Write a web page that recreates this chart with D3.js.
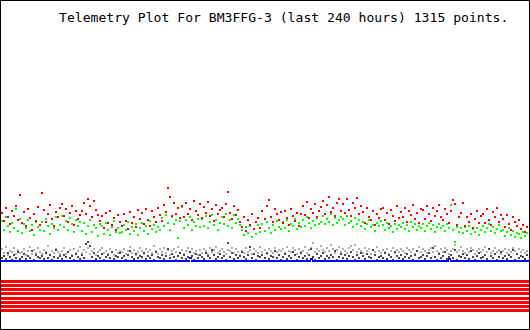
<!DOCTYPE html>
<html>
<head>
<meta charset="utf-8">
<script src="https://cdn.jsdelivr.net/npm/d3@7"></script>
<style>
  body { margin: 0; background: #fff; }
  .wrapper { width: 530px; height: 330px; }
  text { font-family: "DejaVu Sans Mono", "Liberation Mono", monospace; }
</style>
</head>
<body>
<div class="wrapper"></div>
<script>
width = 530;
height = 330;

title = "Telemetry Plot For BM3FFG-3 (last 240 hours) 1315 points.";

/* Analog channels, raw values 0-255, one per packet (263 packets) */
ch1 = [ // red
  48,40,53,44,37,50,45,55,41,66, 38,49,35,52,43,31,47,40,54,36,
  68,51,39,47,56,42,35,49,44,53, 57,45,52,39,48,55,36,50,42,46,
  50,58,47,62,55,44,60,51,46,40, 45,33,48,38,50,36,43,31,46,39,
  35,47,40,32,49,38,44,34,51,42, 48,37,52,41,35,50,44,39,53,46,
  40,56,49,73,64,45,58,47,53,43, 55,44,58,47,52,41,60,50,46,57,
  43,54,48,59,45,52,40,56,47,51, 53,44,57,69,48,42,55,46,51,39,
  34,44,30,41,36,47,32,39,43,33, 50,42,55,61,44,39,52,47,41,49,
  38,50,43,36,52,45,40,48,35,47, 55,46,59,43,52,48,57,44,50,54,
  60,47,56,64,49,53,45,58,62,50, 57,48,62,51,45,58,53,63,47,55,
  49,38,53,44,41,50,36,47,43,52, 53,41,48,37,51,45,40,55,43,49,
  44,53,39,50,46,56,42,48,38,52, 51,42,55,47,40,53,45,50,56,44,
  41,52,47,38,50,61,57,36,44,48, 58,35,44,39,47,33,42,50,38,45,
  47,38,52,41,36,49,44,53,39,46, 42,34,46,37,31,44,39,35,41,32,
  36,29,34
];
ch2 = [ // green
  40,31,44,35,29,38,33,52,30,42, 28,37,33,41,30,36,26,39,34,31,
  39,30,42,35,27,37,33,44,31,36, 45,34,40,31,43,37,29,41,35,39,
  30,38,27,35,41,29,36,33,25,37, 35,27,38,31,26,34,40,29,33,28,
  29,36,31,39,27,34,30,37,26,33, 38,30,35,27,40,32,36,29,34,31,
  43,35,46,38,31,44,37,41,23,40, 54,33,41,36,44,31,39,35,42,34,
  42,35,45,33,39,46,36,41,31,38, 44,37,47,35,41,33,46,38,42,36,
  31,26,34,28,35,24,32,27,36,29, 37,30,39,33,28,36,31,40,34,32,
  39,33,41,30,37,35,42,32,38,34, 41,35,44,38,33,40,36,43,37,39,
  45,37,42,39,47,36,43,38,41,44, 42,36,45,38,40,34,43,37,41,35,
  39,32,37,41,34,36,30,38,35,40, 36,31,38,33,35,29,37,32,36,34,
  38,32,36,30,39,34,37,31,35,33, 37,30,35,38,32,36,29,34,37,33,
  35,30,37,33,56,31,19,34,29,33, 28,34,30,35,27,32,29,33,26,31,
  35,29,33,37,30,34,28,32,36,30, 31,25,29,33,26,30,24,28,27,23,
  29,25,28
];
ch3 = [ // blue
  0,0,0,0,0,0,0,0,0,0, 0,0,0,0,0,0,0,0,0,0, 0,0,0,0,0,0,0,0,0,0,
  0,0,0,0,0,0,0,0,0,0, 0,0,0,0,0,0,0,0,0,0, 0,0,0,0,0,0,0,0,0,0,
  0,0,0,0,0,0,0,0,0,0, 0,0,0,0,0,0,0,0,0,0, 0,0,0,0,0,0,0,0,0,0,
  0,0,0,0,3,0,0,0,0,0, 0,0,0,0,0,0,0,0,0,0, 0,0,0,0,0,0,0,0,0,0,
  0,0,0,0,0,0,0,0,0,0, 0,0,0,0,0,0,0,0,0,0, 0,0,0,0,0,0,0,0,0,0,
  0,0,0,0,2,0,0,0,0,0, 0,0,0,0,0,0,0,0,0,0, 0,0,0,0,0,0,0,0,0,0,
  0,0,0,0,0,0,0,0,0,0, 0,0,0,0,0,0,0,0,0,0, 0,0,0,0,0,0,0,0,0,0,
  0,0,0,0,0,0,0,0,0,0, 0,0,0,2,0,0,0,0,0,0, 0,0,0,0,0,0,0,0,0,0,
  0,0,0,0,0,0,0,0,0,0, 0,0,0,0,0,0,0,0,0,0,
  0,0,0
];
ch4 = [ // dark grey
  3,5,2,8,4,1,6,3,9,2, 4,7,2,5,3,10,1,6,4,3, 5,2,8,3,6,1,4,11,3,5,
  2,6,4,9,3,5,1,7,4,2, 6,3,17,19,15,4,8,2,5,3, 7,1,4,6,3,9,2,5,4,8,
  3,5,1,6,10,4,2,7,3,5, 4,8,2,5,3,6,1,9,4,3, 6,2,5,12,3,7,4,1,5,8,
  3,6,2,4,9,5,1,7,3,6, 4,2,8,5,3,11,6,2,4,7, 3,5,1,18,4,8,2,6,3,5,
  9,4,2,6,14,3,7,1,5,4, 6,3,8,2,5,4,10,3,6,1, 4,7,2,5,3,9,6,1,4,8,
  3,5,2,6,12,4,1,7,3,5, 8,2,5,3,6,4,10,1,4,7, 3,6,2,5,9,4,1,6,3,8,
  5,2,7,4,3,11,6,1,4,5, 3,8,2,6,4,1,9,5,3,6, 2,4,7,3,5,1,6,10,3,4,
  6,2,5,8,3,13,4,1,7,3, 5,9,2,4,6,3,11,1,5,4, 7,3,6,2,10,4,1,5,8,3,
  4,6,2,12,5,3,7,1,4,9, 3,5,2,6,4,11,1,7,3,5, 4,2,6
];
ch5 = [ // light grey
  12,8,14,6,10,9,13,7,11,8, 9,12,6,10,14,7,11,8,13,9, 7,11,9,15,6,10,8,12,9,7,
  10,13,7,9,11,6,12,8,10,14, 8,11,9,13,7,10,12,6,9,11, 13,8,10,7,12,9,6,11,8,10,
  9,12,7,10,14,8,11,6,9,13, 10,7,12,9,11,8,15,10,7,12, 9,13,8,11,6,10,12,9,14,8,
  11,7,10,13,9,12,8,10,6,11, 8,12,10,7,13,9,11,14,8,10, 12,9,7,11,10,13,8,12,9,6,
  10,8,13,9,11,7,12,10,8,14, 9,11,7,12,10,8,13,9,11,10, 12,8,14,10,9,13,11,7,12,9,
  10,14,8,11,13,18,9,12,10,15, 11,9,13,10,16,12,8,11,14,9, 12,10,8,13,15,11,16,9,12,10,
  8,13,10,12,7,11,9,14,10,8, 11,9,12,7,10,13,8,11,9,12, 10,8,13,11,9,12,7,10,14,9,
  12,10,8,11,13,9,15,10,8,12, 9,13,11,7,10,12,16,9,11,14, 10,8,12,9,13,11,7,10,12,9,
  11,14,9,12,8,10,13,9,11,7, 10,12,8,11,9,13,10,7,12,9, 11,8,10
];

/* Digital bits B1..B8 */
bits = [1, 1, 1, 1, 1, 1, 1, 1];

channels = [
  { name: "ch5", values: ch5, color: "#b0b0b0", w: 2 },
  { name: "ch4", values: ch4, color: "#484848", w: 2 },
  { name: "ch3", values: ch3, color: "#0000ff", w: 3 },
  { name: "ch2", values: ch2, color: "#00ff00", w: 2 },
  { name: "ch1", values: ch1, color: "#ff0000", w: 2 }
];

N = ch1.length;

scaleX = d3.scaleLinear().domain([0, N - 1]).range([1, width - 4]);
scaleY = d3.scaleLinear().domain([0, 255]).range([260, 5]);
scaleBit = d3.scaleBand().domain(d3.range(bits.length)).range([280, 312]).paddingInner(0.25);

/* Initialize canvas */
svg = d3.select(".wrapper")
  .append("svg")
  .attr("width", width)
  .attr("height", height)
  .attr("shape-rendering", "crispEdges");

svg.append("rect")
  .attr("width", width)
  .attr("height", height)
  .attr("fill", "#fff");

// title
svg.append("text")
  .attr("x", 59)
  .attr("y", 22)
  .attr("font-size", 13.1)
  .attr("fill", "#000")
  .text(title);

// analog channels, one small mark per packet
channels.forEach(function (ch) {
  svg.append("g")
    .attr("class", ch.name)
    .selectAll("rect")
    .data(ch.values)
    .enter().append("rect")
    .attr("x", function (d, i) { return Math.round(scaleX(i)) })
    .attr("y", function (d) { return Math.round(scaleY(d)) })
    .attr("width", ch.w)
    .attr("height", 2)
    .attr("fill", ch.color);
});

// digital bits as stripes
svg.append("g")
  .attr("class", "bits")
  .selectAll("rect")
  .data(bits)
  .enter().append("rect")
  .attr("x", 1)
  .attr("y", function (d, i) { return Math.round(scaleBit(i)) })
  .attr("width", width - 2)
  .attr("height", Math.round(scaleBit.bandwidth()))
  .attr("fill", function (d) { return d ? "#ff0000" : "#fff" });

// frame
svg.append("rect")
  .attr("x", 0.5)
  .attr("y", 0.5)
  .attr("width", width - 1)
  .attr("height", height - 1)
  .attr("fill", "none")
  .attr("stroke", "#000");
</script>
</body>
</html>
